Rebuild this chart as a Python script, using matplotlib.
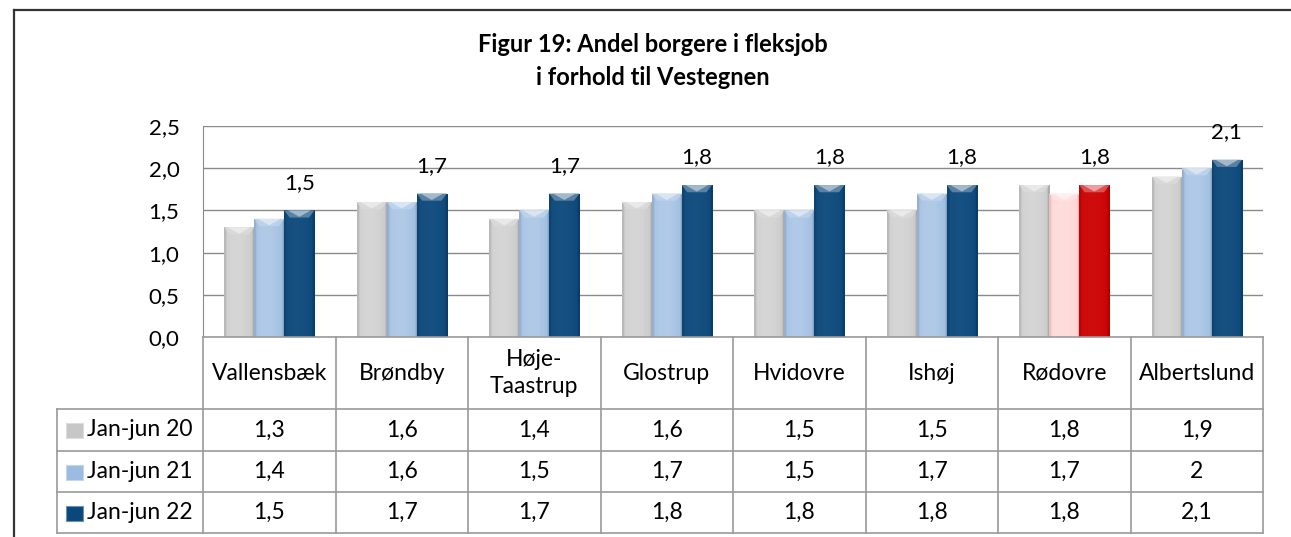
import numpy as np
import matplotlib
matplotlib.use("Agg")
import matplotlib.pyplot as plt
from matplotlib.patches import Rectangle, Polygon
from matplotlib.lines import Line2D
from matplotlib.colors import to_rgb

# Data: andel borgere i fleksjob (pct.)
kommuner = ["Vallensbæk", "Brøndby", "Høje-\nTaastrup", "Glostrup", "Hvidovre",
            "Ishøj", "Rødovre", "Albertslund"]
perioder = ["Jan-jun 20", "Jan-jun 21", "Jan-jun 22"]
jan_jun_20 = [1.3, 1.6, 1.4, 1.6, 1.5, 1.5, 1.8, 1.9]
jan_jun_21 = [1.4, 1.6, 1.5, 1.7, 1.5, 1.7, 1.7, 2.0]
jan_jun_22 = [1.5, 1.7, 1.7, 1.8, 1.8, 1.8, 1.8, 2.1]
y_ticks = [0.0, 0.5, 1.0, 1.5, 2.0, 2.5]

serier = [jan_jun_20, jan_jun_21, jan_jun_22]
farver = ["#c6c6c6", "#9bbbe0", "#0a477a"]
# Rødovre fremhæves i rødt
fremhaevet = "Rødovre"
farver_fremhaevet = ["#c6c6c6", "#ffd3d3", "#cc0000"]
glans = [0.28, 0.22, 0.05]

plt.rcParams["font.family"] = ["Lato", "DejaVu Sans"]

W, H = 1291, 537
fig = plt.figure(figsize=(W / 100, H / 100), dpi=100)


def px(x0, y0, x1, y1):
    # pixel-boks (top-venstre origo) -> figur-koordinater
    return [x0 / W, 1 - y1 / H, (x1 - x0) / W, (y1 - y0) / H]


def lysere(c, f):
    c = np.array(to_rgb(c))
    return tuple(c + (1 - c) * f)


def moerkere(c, f):
    return tuple(np.array(to_rgb(c)) * (1 - f))


def tegn_soejle(ax, x0, b, h, farve, g):
    # soejle med bevel-effekt: gradient paa tvaers + lys spids i toppen
    rect = Rectangle((x0, 0), b, h, facecolor=farve, edgecolor=moerkere(farve, 0.25),
                     lw=0.6, zorder=3)
    ax.add_patch(rect)
    t = np.linspace(0, 1, 80)
    prof = g * np.clip(1 - ((t - 0.42) / 0.58) ** 2, 0, 1)
    base = np.array(to_rgb(farve))
    rgb = base[None, :] + (1 - base[None, :]) * prof[:, None]
    kant = np.ones_like(t)
    kant[t < 0.07] = 0.9
    kant[t > 0.93] = 0.86
    rgb = rgb * kant[:, None]
    img = np.repeat(rgb[None, :, :], 2, axis=0)
    im = ax.imshow(img, extent=(x0, x0 + b, 0, h), aspect="auto", zorder=3.1,
                   interpolation="bilinear")
    im.set_clip_path(rect)
    d = 0.085
    top = Polygon([(x0, h), (x0 + b, h), (x0 + b * 0.82, h - d), (x0 + b * 0.18, h - d)],
                  closed=True, facecolor=lysere(farve, 0.35), edgecolor="none",
                  alpha=0.9, zorder=3.2)
    ax.add_patch(top)
    spids = Polygon([(x0 + b * 0.12, h), (x0 + b * 0.88, h), (x0 + b * 0.5, h - d * 0.9)],
                    closed=True, facecolor=lysere(farve, 0.7), edgecolor="none",
                    alpha=0.8, zorder=3.3)
    ax.add_patch(spids)


# Diagramomraade
ax = fig.add_axes(px(203, 126, 1263, 337))
n = len(kommuner)
x = np.arange(n)
bredde = 0.227
for i, k in enumerate(kommuner):
    cols = farver_fremhaevet if k == fremhaevet else farver
    for j, serie in enumerate(serier):
        x0 = x[i] + (j - 1) * bredde - bredde / 2
        tegn_soejle(ax, x0, bredde, serie[i], cols[j], glans[j])

for i, v in enumerate(jan_jun_22):
    ax.annotate(f"{v:.1f}".replace(".", ","), (x[i] + bredde, v), xytext=(0, 20),
                textcoords="offset points", ha="center", va="center", fontsize=16,
                zorder=5)

ax.set_xlim(-0.5, n - 0.5)
ax.set_ylim(0, 2.5)
ax.set_yticks(y_ticks)
ax.set_yticklabels([f"{t:.1f}".replace(".", ",") for t in y_ticks], fontsize=16)
ax.set_xticks([])
ax.tick_params(axis="y", length=0, pad=17)
ax.yaxis.grid(True, color="#8a8a8a", lw=1.0)
ax.set_axisbelow(True)
for s in ["top", "right", "bottom"]:
    ax.spines[s].set_visible(False)
ax.spines["left"].set_color("#8a8a8a")

# Datatabel under diagrammet
tab = fig.add_axes(px(203, 337, 1263, 533))
tab.set_xlim(-0.5, n - 0.5)
tab.set_ylim(196, 0)
tab.axis("off")
raekker = [0, 72, 114, 155, 196]
legend_x = -1.602
lc = "#9a9a9a"
tab.plot([-0.5, n - 0.5], [0, 0], color=lc, lw=1.2, clip_on=False)
for yy in raekker[1:]:
    tab.plot([legend_x, n - 0.5], [yy, yy], color=lc, lw=1.2, clip_on=False)
for i in range(n + 1):
    tab.plot([i - 0.5, i - 0.5], [0, 196], color=lc, lw=1.2, clip_on=False)
tab.plot([legend_x, legend_x], [raekker[1], 196], color=lc, lw=1.2, clip_on=False)

for i, k in enumerate(kommuner):
    tab.text(x[i], raekker[1] / 2, k, ha="center", va="center", fontsize=16.5,
             linespacing=1.3)
for j, (navn, serie) in enumerate(zip(perioder, serier)):
    yc = (raekker[j + 1] + raekker[j + 2]) / 2
    tab.add_patch(Rectangle((legend_x + 0.07, yc - 7), 0.125, 15, facecolor=farver[j],
                            edgecolor=lysere(farver[j], 0.4), lw=0.8, clip_on=False))
    tab.text(legend_x + 0.23, yc, navn, ha="left", va="center", fontsize=16.5)
    for i, v in enumerate(serie):
        tab.text(x[i], yc, f"{v:g}".replace(".", ","), ha="center", va="center",
                 fontsize=16.5)

# Titel og ramme
fig.text(653 / W, 1 - 61 / H, "Figur 19: Andel borgere i fleksjob\ni forhold til Vestegnen",
         ha="center", va="center", fontsize=17, fontweight="bold", linespacing=1.5)
fig.add_artist(Line2D([14 / W, 1], [1 - 10 / H, 1 - 10 / H], color="#333333", lw=1.6))
fig.add_artist(Line2D([14 / W, 14 / W], [0, 1 - 10 / H], color="#333333", lw=1.6))

fig.savefig("out.png", dpi=100)
